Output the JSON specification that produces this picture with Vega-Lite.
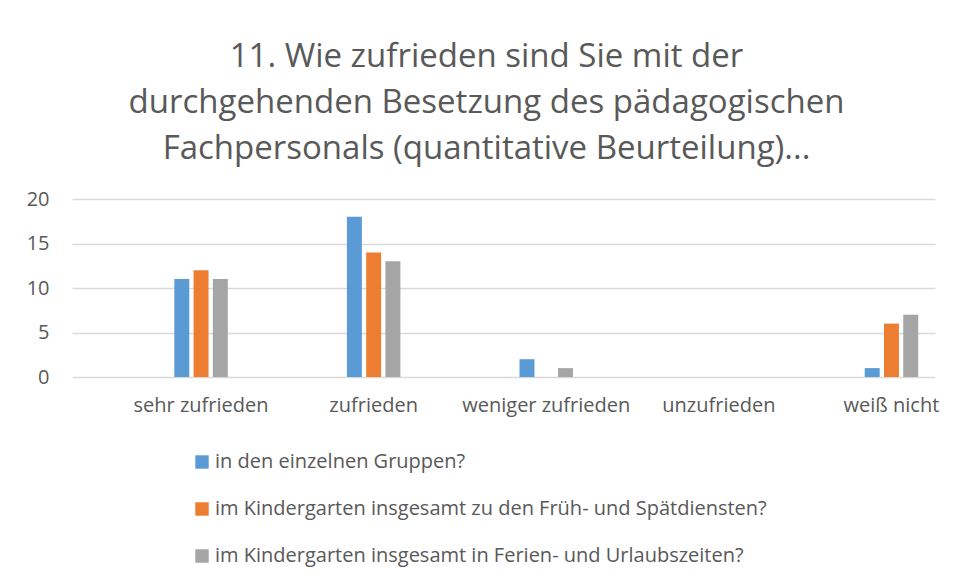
{
  "$schema": "https://vega.github.io/schema/vega-lite/v6.json",
  "width": 863,
  "height": 178,
  "autosize": "none",
  "padding": {"left": 72, "top": 199, "right": 21, "bottom": 202},
  "background": "white",
  "title": {
    "text": ["11. Wie zufrieden sind Sie mit der", "durchgehenden Besetzung des pädagogischen", "Fachpersonals (quantitative Beurteilung)..."],
    "fontSize": 33,
    "font": "Open Sans",
    "fontWeight": "normal",
    "color": "#595959",
    "anchor": "middle",
    "frame": "group",
    "dx": -17,
    "lineHeight": 46,
    "baseline": "bottom",
    "offset": -10
  },
  "data": {
    "values": [
      {"Antwort": "sehr zufrieden", "Serie": "in den einzelnen Gruppen?", "Anzahl": 11},
      {"Antwort": "sehr zufrieden", "Serie": "im Kindergarten insgesamt zu den Früh- und Spätdiensten?", "Anzahl": 12},
      {"Antwort": "sehr zufrieden", "Serie": "im Kindergarten insgesamt in Ferien- und Urlaubszeiten?", "Anzahl": 11},
      {"Antwort": "zufrieden", "Serie": "in den einzelnen Gruppen?", "Anzahl": 18},
      {"Antwort": "zufrieden", "Serie": "im Kindergarten insgesamt zu den Früh- und Spätdiensten?", "Anzahl": 14},
      {"Antwort": "zufrieden", "Serie": "im Kindergarten insgesamt in Ferien- und Urlaubszeiten?", "Anzahl": 13},
      {"Antwort": "weniger zufrieden", "Serie": "in den einzelnen Gruppen?", "Anzahl": 2},
      {"Antwort": "weniger zufrieden", "Serie": "im Kindergarten insgesamt zu den Früh- und Spätdiensten?", "Anzahl": 0},
      {"Antwort": "weniger zufrieden", "Serie": "im Kindergarten insgesamt in Ferien- und Urlaubszeiten?", "Anzahl": 1},
      {"Antwort": "unzufrieden", "Serie": "in den einzelnen Gruppen?", "Anzahl": 0},
      {"Antwort": "unzufrieden", "Serie": "im Kindergarten insgesamt zu den Früh- und Spätdiensten?", "Anzahl": 0},
      {"Antwort": "unzufrieden", "Serie": "im Kindergarten insgesamt in Ferien- und Urlaubszeiten?", "Anzahl": 0},
      {"Antwort": "weiß nicht", "Serie": "in den einzelnen Gruppen?", "Anzahl": 1},
      {"Antwort": "weiß nicht", "Serie": "im Kindergarten insgesamt zu den Früh- und Spätdiensten?", "Anzahl": 6},
      {"Antwort": "weiß nicht", "Serie": "im Kindergarten insgesamt in Ferien- und Urlaubszeiten?", "Anzahl": 7}
    ]
  },
  "mark": {"type": "bar"},
  "encoding": {
    "x": {
      "field": "Antwort",
      "type": "nominal",
      "sort": ["sehr zufrieden", "zufrieden", "weniger zufrieden", "unzufrieden", "weiß nicht"],
      "scale": {"paddingInner": 0.69, "paddingOuter": 0.345, "align": 0.859},
      "axis": {
        "title": null,
        "labelAngle": 0,
        "ticks": false,
        "domain": false,
        "grid": false,
        "labelFontSize": 20,
        "labelFont": "Open Sans",
        "labelColor": "#595959",
        "labelPadding": 18,
        "labelLimit": 300
      }
    },
    "xOffset": {
      "field": "Serie",
      "type": "nominal",
      "sort": ["in den einzelnen Gruppen?", "im Kindergarten insgesamt zu den Früh- und Spätdiensten?", "im Kindergarten insgesamt in Ferien- und Urlaubszeiten?"],
      "scale": {"paddingInner": 0.223, "paddingOuter": 0}
    },
    "y": {
      "field": "Anzahl",
      "type": "quantitative",
      "scale": {"domain": [0, 20]},
      "axis": {
        "title": null,
        "values": [0, 5, 10, 15, 20],
        "ticks": false,
        "domain": false,
        "labelPadding": 23,
        "labelFontSize": 20,
        "labelFont": "Open Sans",
        "labelColor": "#595959",
        "gridColor": "#d9d9d9",
        "gridWidth": 1.3
      }
    },
    "color": {
      "field": "Serie",
      "type": "nominal",
      "sort": ["in den einzelnen Gruppen?", "im Kindergarten insgesamt zu den Früh- und Spätdiensten?", "im Kindergarten insgesamt in Ferien- und Urlaubszeiten?"],
      "scale": {
        "domain": ["in den einzelnen Gruppen?", "im Kindergarten insgesamt zu den Früh- und Spätdiensten?", "im Kindergarten insgesamt in Ferien- und Urlaubszeiten?"],
        "range": ["#5B9BD5", "#ED7D31", "#A5A5A5"]
      },
      "legend": {
        "title": null,
        "orient": "none",
        "legendX": 120,
        "legendY": 253,
        "direction": "vertical",
        "symbolType": "square",
        "symbolSize": 180,
        "symbolStrokeWidth": 0,
        "labelFontSize": 20,
        "labelFont": "Open Sans",
        "labelColor": "#595959",
        "labelOffset": 3,
        "labelLimit": 700,
        "rowPadding": 27,
        "padding": 0
      }
    }
  },
  "config": {"view": {"stroke": null}}
}
